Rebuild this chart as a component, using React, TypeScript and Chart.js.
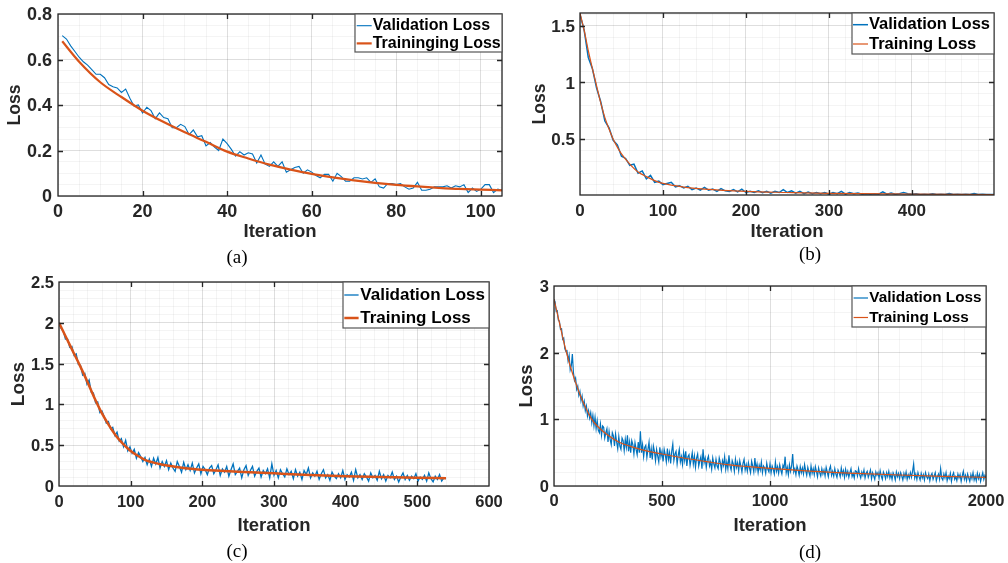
import React, { useEffect, useRef } from 'react';
import { Chart, registerables } from 'chart.js';

Chart.register(...registerables);

const BLUE = '#0072BD';
const ORANGE = '#D95319';
const AXIS = '#262626';
const MAJOR_GRID = 'rgba(0,0,0,0.13)';
const MINOR_GRID = 'rgba(0,0,0,0.045)';
const FONT = "'Liberation Sans', Arial, Helvetica, sans-serif";

// ---------------- (a) ----------------
const A_VAL_START = 1;
const A_VAL_STEP = 1;
const A_VAL = [
  0.705, 0.69, 0.66, 0.635, 0.61, 0.59, 0.575, 0.555, 0.535, 0.535,
  0.52, 0.49, 0.48, 0.475, 0.455, 0.47, 0.43, 0.395, 0.40, 0.365,
  0.39, 0.375, 0.34, 0.365, 0.345, 0.34, 0.30, 0.30, 0.315, 0.305,
  0.27, 0.29, 0.26, 0.265, 0.22, 0.235, 0.215, 0.20, 0.25, 0.23,
  0.205, 0.175, 0.195, 0.18, 0.19, 0.185, 0.145, 0.18, 0.14, 0.13,
  0.15, 0.13, 0.15, 0.105, 0.115, 0.125, 0.13, 0.10, 0.115, 0.105,
  0.09, 0.08, 0.095, 0.095, 0.065, 0.10, 0.085, 0.065, 0.065, 0.08,
  0.08, 0.075, 0.08, 0.06, 0.075, 0.04, 0.035, 0.055, 0.055, 0.05,
  0.055, 0.04, 0.03, 0.035, 0.06, 0.025, 0.025, 0.03, 0.04, 0.04,
  0.04, 0.045, 0.035, 0.045, 0.04, 0.05, 0.015, 0.035, 0.02, 0.03,
  0.05, 0.05, 0.015, 0.03, 0.025,
];
const A_TR_ITER = [1, 5, 10, 15, 20, 25, 30, 35, 40, 45, 50, 55, 60, 65, 70, 75, 80, 85, 90, 95, 100, 105];
const A_TR = [0.68, 0.59, 0.5, 0.435, 0.375, 0.325, 0.28, 0.238, 0.195, 0.165, 0.138, 0.116, 0.097, 0.082, 0.069, 0.058, 0.049, 0.042, 0.036, 0.031, 0.028, 0.025];
const A_X_TICKS = [0, 20, 40, 60, 80, 100];
const A_Y_TICKS = [0, 0.2, 0.4, 0.6, 0.8];
const A_LABELS = ['Validation Loss', 'Traininging Loss'];

// ---------------- (b) ----------------
const B_VAL_START = 0;
const B_VAL_STEP = 5;
const B_VAL = [
  1.6, 1.46, 1.22, 1.12, 0.95, 0.83, 0.66, 0.6, 0.49, 0.45,
  0.35, 0.33, 0.27, 0.28, 0.2, 0.22, 0.15, 0.18, 0.12, 0.13,
  0.1, 0.11, 0.12, 0.08, 0.09, 0.07, 0.085, 0.055, 0.07, 0.05,
  0.075, 0.05, 0.06, 0.04, 0.065, 0.045, 0.04, 0.055, 0.035, 0.06,
  0.03, 0.04, 0.03, 0.045, 0.028, 0.04, 0.025, 0.04, 0.03, 0.055,
  0.03, 0.045, 0.025, 0.04, 0.02, 0.035, 0.02, 0.03, 0.02, 0.03,
  0.015, 0.03, 0.02, 0.04, 0.015, 0.03, 0.02, 0.025, 0.015, 0.02,
  0.015, 0.02, 0.015, 0.035, 0.015, 0.025, 0.015, 0.02, 0.03, 0.02,
  0.015, 0.02, 0.012, 0.015, 0.012, 0.018, 0.012, 0.015, 0.012, 0.02,
  0.012, 0.015, 0.012, 0.015, 0.012, 0.02, 0.012, 0.015, 0.012, 0.013,
  0.013,
];
const B_TR_ITER = [0, 5, 10, 15, 20, 25, 30, 35, 40, 45, 50, 60, 70, 80, 90, 100, 125, 150, 200, 250, 300, 400, 499];
const B_TR = [1.61, 1.46, 1.28, 1.12, 0.97, 0.82, 0.69, 0.59, 0.5, 0.43, 0.37, 0.28, 0.21, 0.17, 0.135, 0.11, 0.078, 0.06, 0.04, 0.03, 0.022, 0.016, 0.012];
const B_X_TICKS = [0, 100, 200, 300, 400];
const B_Y_TICKS = [0.5, 1, 1.5];
const B_LABELS = ['Validation Loss', 'Training Loss'];

// ---------------- (c) ----------------
const C_VAL_START = 0;
const C_VAL_STEP = 3;
const C_VAL = [
  2.0, 1.93, 1.9, 1.8, 1.8, 1.7, 1.71, 1.6, 1.62, 1.49,
  1.48, 1.36, 1.38, 1.25, 1.3, 1.15, 1.14, 1.02, 1.03, 0.9,
  0.92, 0.85, 0.77, 0.79, 0.7, 0.72, 0.62, 0.66, 0.55, 0.58,
  0.48, 0.56, 0.43, 0.48, 0.4, 0.45, 0.34, 0.41, 0.36, 0.3,
  0.35, 0.26, 0.33, 0.24, 0.34, 0.27, 0.35, 0.22, 0.3, 0.24,
  0.31, 0.2, 0.28, 0.22, 0.18, 0.3, 0.24, 0.17, 0.29, 0.2,
  0.26, 0.19, 0.28, 0.16, 0.22, 0.27, 0.15, 0.24, 0.2, 0.14,
  0.22, 0.25, 0.15, 0.2, 0.26, 0.13, 0.21, 0.17, 0.24, 0.12,
  0.2, 0.27, 0.14, 0.18, 0.22, 0.1, 0.2, 0.25, 0.13, 0.19,
  0.24, 0.12, 0.18, 0.22, 0.11, 0.19, 0.15, 0.21, 0.1, 0.27,
  0.13, 0.19, 0.1, 0.2, 0.15, 0.11, 0.21, 0.14, 0.18, 0.09,
  0.2, 0.12, 0.17, 0.08, 0.19, 0.14, 0.22, 0.1, 0.16, 0.12,
  0.18, 0.08, 0.15, 0.2, 0.1, 0.14, 0.07, 0.17, 0.12, 0.09,
  0.15, 0.1, 0.19, 0.08, 0.14, 0.11, 0.17, 0.07, 0.2, 0.1,
  0.14, 0.08, 0.15, 0.11, 0.06, 0.16, 0.1, 0.13, 0.07, 0.18,
  0.09, 0.14, 0.06, 0.13, 0.1, 0.17, 0.08, 0.12, 0.05, 0.11,
  0.16, 0.08, 0.13, 0.07, 0.12, 0.09, 0.15, 0.06, 0.11, 0.08,
  0.13, 0.06, 0.16, 0.09, 0.05, 0.12, 0.08, 0.14, 0.06, 0.1,
  0.09,
];
const C_TR_ITER = [0, 10, 20, 30, 40, 50, 60, 70, 80, 90, 100, 110, 120, 140, 160, 180, 200, 250, 300, 350, 400, 450, 500, 540];
const C_TR = [2.0, 1.82, 1.64, 1.46, 1.27, 1.07, 0.89, 0.74, 0.61, 0.51, 0.43, 0.37, 0.32, 0.27, 0.24, 0.215, 0.2, 0.175, 0.155, 0.135, 0.12, 0.11, 0.1, 0.095];
const C_X_TICKS = [0, 100, 200, 300, 400, 500, 600];
const C_Y_TICKS = [0, 0.5, 1, 1.5, 2, 2.5];
const C_LABELS = ['Validation Loss', 'Training Loss'];

// ---------------- (d) ----------------
const D_VAL_START = 0;
const D_VAL_STEP = 5;
const D_VAL = [
  2.8, 2.76, 2.62, 2.63, 2.49, 2.47, 2.35, 2.36, 2.2, 2.22,
  2.06, 2.02, 2.03, 1.88, 1.96, 1.74, 1.8, 1.98, 1.7, 1.58,
  1.62, 1.45, 1.5, 1.36, 1.42, 1.28, 1.35, 1.2, 1.27, 1.13,
  1.2, 1.05, 1.13, 1.02, 1.1, 0.95, 1.06, 0.9, 1.03, 0.86,
  0.98, 0.84, 0.8, 0.93, 0.76, 0.9, 0.88, 0.72, 0.8, 0.86,
  0.66, 0.82, 0.7, 0.62, 0.8, 0.75, 0.6, 0.78, 0.66, 0.56,
  0.74, 0.6, 0.55, 0.72, 0.68, 0.53, 0.7, 0.58, 0.76, 0.52,
  0.66, 0.5, 0.68, 0.62, 0.48, 0.65, 0.55, 0.47, 0.66, 0.5,
  0.82, 0.5, 0.62, 0.44, 0.58, 0.61, 0.43, 0.55, 0.66, 0.42,
  0.56, 0.4, 0.6, 0.52, 0.38, 0.55, 0.45, 0.36, 0.58, 0.44,
  0.52, 0.37, 0.55, 0.47, 0.36, 0.56, 0.4, 0.5, 0.34, 0.52,
  0.63, 0.38, 0.48, 0.52, 0.33, 0.46, 0.55, 0.36, 0.44, 0.32,
  0.5, 0.38, 0.52, 0.3, 0.44, 0.47, 0.31, 0.4, 0.5, 0.33,
  0.45, 0.28, 0.42, 0.48, 0.3, 0.38, 0.44, 0.26, 0.55, 0.35,
  0.42, 0.28, 0.4, 0.45, 0.3, 0.36, 0.25, 0.42, 0.33, 0.27,
  0.4, 0.3, 0.26, 0.42, 0.35, 0.24, 0.38, 0.31, 0.44, 0.25,
  0.36, 0.26, 0.46, 0.3, 0.24, 0.38, 0.33, 0.22, 0.4, 0.28,
  0.35, 0.23, 0.38, 0.3, 0.21, 0.34, 0.4, 0.24, 0.32, 0.22,
  0.35, 0.27, 0.2, 0.37, 0.3, 0.21, 0.42, 0.25, 0.33, 0.2,
  0.31, 0.24, 0.36, 0.2, 0.3, 0.27, 0.19, 0.34, 0.25, 0.21,
  0.33, 0.2, 0.3, 0.25, 0.18, 0.36, 0.22, 0.29, 0.19, 0.32,
  0.24, 0.18, 0.31, 0.27, 0.44, 0.2, 0.28, 0.17, 0.32, 0.22,
  0.3, 0.48, 0.21, 0.26, 0.17, 0.3, 0.24, 0.16, 0.29, 0.2,
  0.27, 0.18, 0.32, 0.23, 0.16, 0.28, 0.21, 0.15, 0.3, 0.19,
  0.26, 0.17, 0.29, 0.22, 0.14, 0.27, 0.2, 0.15, 0.26, 0.18,
  0.24, 0.15, 0.28, 0.21, 0.14, 0.25, 0.3, 0.16, 0.22, 0.15,
  0.26, 0.18, 0.13, 0.24, 0.2, 0.14, 0.27, 0.17, 0.23, 0.13,
  0.25, 0.16, 0.22, 0.13, 0.2, 0.26, 0.14, 0.19, 0.12, 0.23,
  0.22, 0.15, 0.26, 0.17, 0.12, 0.21, 0.16, 0.24, 0.12, 0.19,
  0.22, 0.13, 0.18, 0.24, 0.11, 0.2, 0.15, 0.1, 0.21, 0.16,
  0.2, 0.12, 0.23, 0.15, 0.1, 0.21, 0.17, 0.11, 0.2, 0.14,
  0.22, 0.12, 0.18, 0.1, 0.2, 0.16, 0.09, 0.21, 0.14, 0.19,
  0.11, 0.2, 0.15, 0.09, 0.19, 0.13, 0.21, 0.1, 0.17, 0.12,
  0.2, 0.13, 0.22, 0.33, 0.12, 0.18, 0.1, 0.2, 0.14, 0.09,
  0.19, 0.12, 0.17, 0.09, 0.2, 0.14, 0.11, 0.18, 0.08, 0.16,
  0.19, 0.1, 0.15, 0.2, 0.08, 0.14, 0.18, 0.1, 0.26, 0.12,
  0.09, 0.18, 0.12, 0.2, 0.08, 0.15, 0.11, 0.19, 0.07, 0.16,
  0.2, 0.1, 0.14, 0.08, 0.18, 0.12, 0.17, 0.07, 0.15, 0.22,
  0.1, 0.16, 0.08, 0.18, 0.12, 0.07, 0.17, 0.11, 0.2, 0.09,
  0.15, 0.08, 0.19, 0.11, 0.17, 0.07, 0.14, 0.2, 0.1, 0.16,
  0.12,
];
const D_TR_ITER = [0, 25, 50, 75, 100, 125, 150, 175, 200, 250, 300, 400, 500, 600, 700, 800, 900, 1000, 1200, 1400, 1600, 1800, 2000];
const D_TR = [2.8, 2.45, 2.1, 1.8, 1.55, 1.33, 1.15, 1.0, 0.9, 0.76, 0.66, 0.55, 0.48, 0.42, 0.37, 0.32, 0.29, 0.265, 0.22, 0.19, 0.165, 0.145, 0.13];
const D_X_TICKS = [0, 500, 1000, 1500, 2000];
const D_Y_TICKS = [0, 1, 2, 3];
const D_LABELS = ['Validation Loss', 'Training Loss'];

type LegendCfg = { w: number; h: number; rows: number[]; lx: number[]; tx: number; font: number };
type PanelCfg = {
  id: string;
  left: number; top: number; w: number; h: number;
  pad: { left: number; top: number; right: number; bottom: number };
  ySize: number; xSize: number;
  xMin: number; xMax: number; xTicks: number[]; xMinor: number;
  yMin: number; yMax: number; yTicks: number[]; yMinor: number;
  xTickPad: number; yTickPad: number; tickFont: number; xTitleFont: number; yTitleFont: number;
  valStart: number; valStep: number; val: number[];
  trX: number[]; trY: number[];
  valW: number; trW: number;
  labels: string[];
  legend: LegendCfg;
  caption: string; capX: number; capY: number;
};

const PANELS: PanelCfg[] = [
  {
    id: 'a', left: 0, top: 0, w: 504, h: 245,
    pad: { left: 5, top: 14, right: 2, bottom: 2 }, ySize: 53, xSize: 47,
    xMin: 0, xMax: 105, xTicks: A_X_TICKS, xMinor: 5,
    yMin: 0, yMax: 0.8, yTicks: A_Y_TICKS, yMinor: 0.05,
    xTickPad: 5, yTickPad: 6, tickFont: 18, xTitleFont: 18.5, yTitleFont: 17.5,
    valStart: A_VAL_START, valStep: A_VAL_STEP, val: A_VAL, trX: A_TR_ITER, trY: A_TR,
    valW: 1.1, trW: 2.2, labels: A_LABELS,
    legend: { w: 147, h: 38, rows: [11.7, 29.4], lx: [1.7, 16.7], tx: 17.7, font: 16 },
    caption: '(a)', capX: 237, capY: 256,
  },
  {
    id: 'b', left: 504, top: 0, w: 504, h: 245,
    pad: { left: 26, top: 13, right: 14, bottom: 2 }, ySize: 50, xSize: 48,
    xMin: 0, xMax: 499, xTicks: B_X_TICKS, xMinor: 20,
    yMin: 0.008, yMax: 1.612, yTicks: B_Y_TICKS, yMinor: 0.1,
    xTickPad: 6, yTickPad: 5, tickFont: 17, xTitleFont: 18.5, yTitleFont: 17.5,
    valStart: B_VAL_START, valStep: B_VAL_STEP, val: B_VAL, trX: B_TR_ITER, trY: B_TR,
    valW: 1.5, trW: 1.2, labels: B_LABELS,
    legend: { w: 142, h: 41, rows: [11.7, 31], lx: [1, 16], tx: 17, font: 16.5 },
    caption: '(b)', capX: 810, capY: 253,
  },
  {
    id: 'c', left: 0, top: 263, w: 504, h: 300,
    pad: { left: 7, top: 19, right: 15, bottom: 26 }, ySize: 52, xSize: 51,
    xMin: 0, xMax: 600, xTicks: C_X_TICKS, xMinor: 20,
    yMin: 0, yMax: 2.5, yTicks: C_Y_TICKS, yMinor: 0.1,
    xTickPad: 7, yTickPad: 5, tickFont: 16.5, xTitleFont: 18.5, yTitleFont: 19,
    valStart: C_VAL_START, valStep: C_VAL_STEP, val: C_VAL, trX: C_TR_ITER, trY: C_TR,
    valW: 1.3, trW: 2.5, labels: C_LABELS,
    legend: { w: 146, h: 46, rows: [13, 36], lx: [1.3, 15.6], tx: 17.3, font: 17 },
    caption: '(c)', capX: 237, capY: 550,
  },
  {
    id: 'd', left: 504, top: 263, w: 504, h: 300,
    pad: { left: 12, top: 23, right: 22, bottom: 26 }, ySize: 38, xSize: 51,
    xMin: 0, xMax: 2000, xTicks: D_X_TICKS, xMinor: 100,
    yMin: 0, yMax: 3, yTicks: D_Y_TICKS, yMinor: 0.2,
    xTickPad: 6, yTickPad: 5, tickFont: 16.5, xTitleFont: 18.5, yTitleFont: 18.5,
    valStart: D_VAL_START, valStep: D_VAL_STEP, val: D_VAL, trX: D_TR_ITER, trY: D_TR,
    valW: 1.2, trW: 1.2, labels: D_LABELS,
    legend: { w: 134, h: 41, rows: [12, 31.5], lx: [1.6, 16], tx: 17.3, font: 15.3 },
    caption: '(d)', capX: 810, capY: 551,
  },
];

function fmt(v: number): string {
  return String(Number(v.toFixed(4)));
}

function makeAxis(
  min: number, max: number, majors: number[], minorStep: number, size: number,
  title: string, tickPad: number, tickFont: number, titleFont: number, vertical: boolean,
) {
  const eps = (max - min) * 1e-7;
  const isMajor = (v: number) => majors.some((m) => Math.abs(m - v) < eps);
  const values: number[] = [];
  const first = Math.ceil(min / minorStep - 1e-9);
  for (let k = first; k * minorStep <= max + eps; k++) {
    values.push(Math.round(k * minorStep * 1e6) / 1e6);
  }
  majors.forEach((m) => {
    if (m >= min - eps && m <= max + eps && !values.some((v) => Math.abs(v - m) < eps)) values.push(m);
  });
  values.sort((p, q) => p - q);
  return {
    type: 'linear' as const,
    min, max,
    afterBuildTicks: (s: any) => {
      s.ticks = values.map((value) => ({ value }));
    },
    afterFit: (s: any) => {
      if (s.isHorizontal()) s.height = size;
      else s.width = size;
      s.paddingLeft = 0; s.paddingRight = 0; s.paddingTop = 0; s.paddingBottom = 0;
    },
    ticks: {
      autoSkip: false, maxRotation: 0, minRotation: 0, padding: tickPad,
      labelOffset: vertical ? 1.5 : 0,
      color: AXIS, font: { family: FONT, size: tickFont, weight: 'bold' as const },
      callback: (v: any) => (isMajor(Number(v)) ? fmt(Number(v)) : ''),
    },
    grid: {
      drawTicks: false,
      lineWidth: 1,
      color: (ctx: any) => (ctx.tick && isMajor(ctx.tick.value) ? MAJOR_GRID : MINOR_GRID),
    },
    border: { display: false },
    title: {
      display: true, text: title, color: AXIS, padding: 0,
      font: { family: FONT, size: titleFont, weight: 'bold' as const, lineHeight: 1.2 },
    },
  };
}

function Panel({ cfg }: { cfg: PanelCfg }) {
  const ref = useRef<HTMLCanvasElement | null>(null);
  useEffect(() => {
    const c = cfg;
    const valData = c.val.map((y, i) => ({ x: c.valStart + i * c.valStep, y }));
    const trData = c.trX.map((x, i) => ({ x, y: c.trY[i] }));
    const colors = [BLUE, ORANGE];
    const widths = [c.valW, c.trW];

    const framePlugin = {
      id: 'frame' + c.id,
      afterDatasetsDraw(chart: any) {
        const { ctx, chartArea: a, scales } = chart;
        ctx.save();
        ctx.strokeStyle = AXIS;
        ctx.lineWidth = 1.3;
        ctx.beginPath();
        c.xTicks.forEach((v) => {
          const px = Math.round(scales.x.getPixelForValue(v)) + 0.5;
          if (px > a.left + 1 && px < a.right - 1) {
            ctx.moveTo(px, a.bottom); ctx.lineTo(px, a.bottom - 5);
            ctx.moveTo(px, a.top); ctx.lineTo(px, a.top + 5);
          }
        });
        c.yTicks.forEach((v) => {
          const py = Math.round(scales.y.getPixelForValue(v)) + 0.5;
          if (py > a.top + 1 && py < a.bottom - 1) {
            ctx.moveTo(a.left, py); ctx.lineTo(a.left + 5, py);
            ctx.moveTo(a.right, py); ctx.lineTo(a.right - 5, py);
          }
        });
        ctx.stroke();
        ctx.strokeRect(a.left, a.top, a.right - a.left, a.bottom - a.top);

        // legend
        const L = c.legend;
        const x0 = a.right - L.w;
        const y0 = a.top;
        ctx.fillStyle = '#ffffff';
        ctx.fillRect(x0, y0, L.w, L.h);
        ctx.strokeStyle = '#555555';
        ctx.lineWidth = 1.2;
        ctx.strokeRect(x0, y0, L.w, L.h);
        ctx.font = `bold ${L.font}px ${FONT}`;
        ctx.textBaseline = 'middle';
        ctx.textAlign = 'left';
        chart.data.datasets.forEach((ds: any, i: number) => {
          const ry = y0 + L.rows[i];
          ctx.strokeStyle = colors[i];
          ctx.lineWidth = widths[i];
          ctx.beginPath();
          ctx.moveTo(x0 + L.lx[0], ry);
          ctx.lineTo(x0 + L.lx[1], ry);
          ctx.stroke();
          ctx.fillStyle = '#000000';
          ctx.fillText(ds.label, x0 + L.tx, ry);
        });
        ctx.restore();
      },
    };

    const chart = new Chart(ref.current as HTMLCanvasElement, {
      type: 'line',
      data: {
        datasets: [
          {
            label: c.labels[0], data: valData, borderColor: BLUE, backgroundColor: BLUE,
            borderWidth: c.valW, pointRadius: 0, tension: 0, order: 1,
          },
          {
            label: c.labels[1], data: trData, borderColor: ORANGE, backgroundColor: ORANGE,
            borderWidth: c.trW, pointRadius: 0, cubicInterpolationMode: 'monotone', order: 0,
          },
        ],
      },
      options: {
        responsive: false,
        animation: false,
        events: [],
        layout: { padding: c.pad },
        plugins: { legend: { display: false }, tooltip: { enabled: false } },
        scales: {
          x: makeAxis(c.xMin, c.xMax, c.xTicks, c.xMinor, c.xSize, 'Iteration', c.xTickPad, c.tickFont, c.xTitleFont, false),
          y: makeAxis(c.yMin, c.yMax, c.yTicks, c.yMinor, c.ySize, 'Loss', c.yTickPad, c.tickFont, c.yTitleFont, true),
        },
      } as any,
      plugins: [framePlugin],
    });
    return () => chart.destroy();
  }, [cfg]);

  return (
    <canvas
      ref={ref}
      width={cfg.w}
      height={cfg.h}
      style={{ position: 'absolute', left: cfg.left, top: cfg.top, width: cfg.w, height: cfg.h }}
    />
  );
}

export default function App() {
  return (
    <div style={{ position: 'absolute', left: 0, top: 0, width: 1008, height: 563, background: '#ffffff', overflow: 'hidden' }}>
      {PANELS.map((p) => (
        <Panel key={p.id} cfg={p} />
      ))}
      {PANELS.map((p) => (
        <div
          key={'cap' + p.id}
          style={{
            position: 'absolute', left: p.capX, top: p.capY, transform: 'translate(-50%, -50%)',
            fontFamily: "'Liberation Serif', 'Times New Roman', serif", fontSize: 19, lineHeight: 1,
            color: '#000000', whiteSpace: 'nowrap',
          }}
        >
          {p.caption}
        </div>
      ))}
    </div>
  );
}
